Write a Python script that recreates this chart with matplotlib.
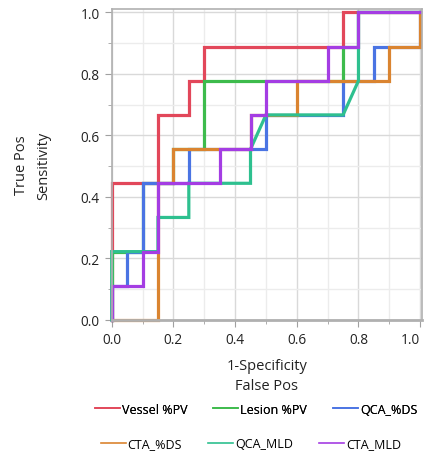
import numpy as np
import matplotlib
matplotlib.use("Agg")
import matplotlib.pyplot as plt
from matplotlib.lines import Line2D
from matplotlib.ticker import MultipleLocator, FormatStrFormatter

plt.rcParams['font.family'] = ['Open Sans', 'DejaVu Sans']

# ROC curves: 1-specificity (x) vs sensitivity (y), 20 negatives / 9 positives
names = ['Vessel %PV', 'Lesion %PV', 'QCA_%DS', 'CTA_%DS', 'QCA_MLD', 'CTA_MLD']
colors = ['#E2475A', '#3DBB4C', '#4A74E3', '#DA8430', '#2EC08F', '#A43DE3']

vessel_x = [0, 0, 0.15, 0.15, 0.25, 0.25, 0.30, 0.30, 0.75, 0.75, 1.0]
vessel_y = [0, 4, 4, 6, 6, 7, 7, 8, 8, 9, 9]

lesion_x = [0, 0, 0.10, 0.10, 0.20, 0.20, 0.30, 0.30, 0.75, 0.75, 0.80, 0.80, 1.0]
lesion_y = [0, 2, 2, 4, 4, 5, 5, 7, 7, 8, 8, 9, 9]

qca_ds_x = [0, 0, 0.05, 0.05, 0.10, 0.10, 0.25, 0.25, 0.50, 0.50, 0.75, 0.75, 0.85, 0.85, 1.0, 1.0]
qca_ds_y = [0, 1, 1, 2, 2, 4, 4, 5, 5, 6, 6, 7, 7, 8, 8, 9]

cta_ds_x = [0, 0.15, 0.15, 0.20, 0.20, 0.45, 0.45, 0.60, 0.60, 0.90, 0.90, 1.0, 1.0]
cta_ds_y = [0, 0, 4, 4, 5, 5, 6, 6, 7, 7, 8, 8, 9]

qca_mld_x = [0, 0, 0.15, 0.15, 0.25, 0.25, 0.45, 0.45, 0.50, 0.75, 0.80, 0.80, 1.0]
qca_mld_y = [0, 2, 2, 3, 3, 4, 4, 5, 6, 6, 7, 9, 9]

cta_mld_x = [0, 0, 0.10, 0.10, 0.15, 0.15, 0.35, 0.35, 0.45, 0.45, 0.50, 0.50, 0.70, 0.70, 0.80, 0.80, 1.0]
cta_mld_y = [0, 1, 1, 2, 2, 4, 4, 5, 5, 6, 6, 7, 7, 8, 8, 9, 9]

curves = [(vessel_x, vessel_y), (lesion_x, lesion_y), (qca_ds_x, qca_ds_y),
          (cta_ds_x, cta_ds_y), (qca_mld_x, qca_mld_y), (cta_mld_x, cta_mld_y)]

fig = plt.figure(figsize=(4.27, 4.60), dpi=100)
ax = fig.add_axes([0.2616, 0.3022, 0.726, 0.676])

for (cx, cy), c in zip(curves, colors):
    ax.plot(cx, np.array(cy) / 9.0, color=c, lw=2.3, solid_joinstyle='miter', clip_on=False)

ax.set_xlim(0, 1.005)
ax.set_ylim(0, 1.011)
ax.xaxis.set_major_locator(MultipleLocator(0.2))
ax.xaxis.set_minor_locator(MultipleLocator(0.1))
ax.yaxis.set_major_locator(MultipleLocator(0.2))
ax.yaxis.set_minor_locator(MultipleLocator(0.1))
ax.xaxis.set_major_formatter(FormatStrFormatter('%.1f'))
ax.yaxis.set_major_formatter(FormatStrFormatter('%.1f'))
ax.grid(which='major', color='#D9D9D9', lw=1.0)
ax.grid(which='minor', color='#ECECEC', lw=1.0)
ax.set_axisbelow(True)
for s in ax.spines.values():
    s.set_color('#B0B0B0')
    s.set_linewidth(1.2)
# axis line at the bottom sits over the curves
ax.spines['bottom'].set_zorder(5)
ax.spines['bottom'].set_linewidth(2.0)
ax.tick_params(which='both', direction='out', color='#A0A0A0', labelsize=9.8, labelcolor='#222222')
ax.tick_params(which='major', length=5)
ax.tick_params(which='minor', length=3)

ax.set_xlabel('1-Specificity\nFalse Pos', fontsize=10.5, labelpad=8, linespacing=1.45, color='#222222')
ax.set_ylabel('True Pos\nSensitivity', fontsize=10.5, linespacing=1.7, color='#222222')
ax.yaxis.set_label_coords(-0.195, 0.5)

handles = [Line2D([0], [0], color=c, lw=1.2) for c in colors]
leg1 = fig.legend(handles[:3], names[:3], loc='center', bbox_to_anchor=(0.600, 0.108), ncol=3,
                  frameon=False, fontsize=9, handlelength=2.0, handletextpad=0.15, columnspacing=2.1)
fig.add_artist(leg1)
fig.legend(handles[3:], names[3:], loc='center', bbox_to_anchor=(0.588, 0.033), ncol=3,
           frameon=False, fontsize=9, handlelength=2.0, handletextpad=0.15, columnspacing=2.1)

# last x label pulled in so it stays inside the figure, as in the original
fig.canvas.draw()
for t in ax.xaxis.get_major_ticks():
    if abs(t.get_loc() - 1.0) < 1e-6:
        t.label1.set_horizontalalignment('right')

fig.savefig('out.png', dpi=100)
